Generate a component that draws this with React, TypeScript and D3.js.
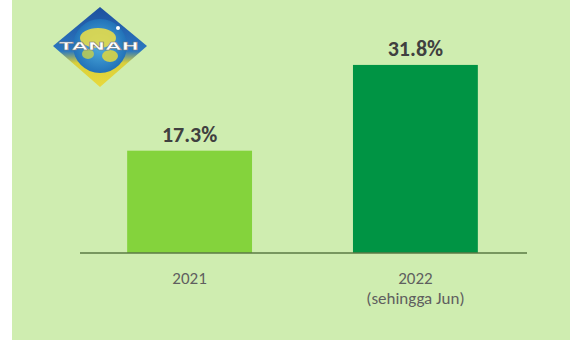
import React from "react";
import * as d3 from "d3";

const categories = ["2021", "2022"];
const subLabels = ["", "(sehingga Jun)"];
const values = [17.3, 31.8];
const valueLabels = ["17.3%", "31.8%"];
const barColors = ["#84d33c", "#009444"];

const W = 570;
const H = 340;

export default function App() {
  const x = d3.scaleBand<string>().domain(categories).range([82, 523]).paddingInner(0.447).paddingOuter(0.2);
  const y = d3.scaleLinear().domain([0, 35]).range([253, 46]);
  const font = "Carlito, Lato, 'Liberation Sans', sans-serif";
  const cx = 100, cy = 46;
  return (
    <svg width={W} height={H} style={{ position: "absolute", left: 0, top: 0, display: "block" }}>
      <defs>
        <linearGradient id="dia" x1="0" y1="0" x2="0" y2="1">
          <stop offset="0" stopColor="#1f4f9e" />
          <stop offset="0.55" stopColor="#2a78c0" />
          <stop offset="0.7" stopColor="#d9cf3a" />
          <stop offset="1" stopColor="#e8d93c" />
        </linearGradient>
        <radialGradient id="sea" cx="0.5" cy="0.5" r="0.5">
          <stop offset="0" stopColor="#4fb0e0" />
          <stop offset="1" stopColor="#2272b8" />
        </radialGradient>
      </defs>
      <rect x={0} y={0} width={W} height={H} fill="#ffffff" />
      <rect x={12} y={0} width={W - 12} height={H} fill="#cfedb0" />
      {/* logo */}
      <g>
        <polygon points={`${cx},${cy - 39} ${cx + 47},${cy} ${cx},${cy + 41} ${cx - 47},${cy}`} fill="url(#dia)" />
        <circle cx={cx} cy={cy} r={27} fill="url(#sea)" />
        <ellipse cx={cx - 2} cy={cy - 8} rx={18} ry={10} fill="#e6dc4a" opacity={0.9} />
        <ellipse cx={cx + 10} cy={cy + 10} rx={8} ry={6} fill="#d8d445" opacity={0.9} />
        <ellipse cx={cx - 12} cy={cy + 8} rx={6} ry={5} fill="#c9d24a" opacity={0.8} />
        <circle cx={cx + 18} cy={cy - 18} r={2} fill="#ffffff" />
        <text x={cx - 1} y={cy + 4} textAnchor="middle" fill="#ffffff" stroke="#7a7a7a" strokeWidth={0.4} fontFamily="'DejaVu Sans', sans-serif" fontWeight="bold" fontSize={10} textLength={80} lengthAdjust="spacingAndGlyphs">TANAH</text>
      </g>
      {/* bars */}
      {categories.map((c, i) => (
        <rect key={c} x={x(c)} y={y(values[i])} width={x.bandwidth()} height={y(0) - y(values[i])} fill={barColors[i]} />
      ))}
      {/* axis line */}
      <line x1={80} x2={527} y1={y(0)} y2={y(0)} stroke="#5b7a45" strokeWidth={1.3} />
      {/* value labels */}
      {categories.map((c, i) => (
        <text key={c} x={(x(c) as number) + x.bandwidth() / 2} y={y(values[i]) - 9} textAnchor="middle" fontFamily={font} fontWeight="bold" fontSize={22} fill="#404040">{valueLabels[i]}</text>
      ))}
      {/* category labels */}
      {categories.map((c, i) => (
        <g key={c}>
          <text x={(x(c) as number) + x.bandwidth() / 2} y={284} textAnchor="middle" fontFamily={font} fontSize={17} fill="#5f5f5f">{c}</text>
          {subLabels[i] && (
            <text x={(x(c) as number) + x.bandwidth() / 2} y={304} textAnchor="middle" fontFamily={font} fontSize={17} fill="#5f5f5f">{subLabels[i]}</text>
          )}
        </g>
      ))}
    </svg>
  );
}
